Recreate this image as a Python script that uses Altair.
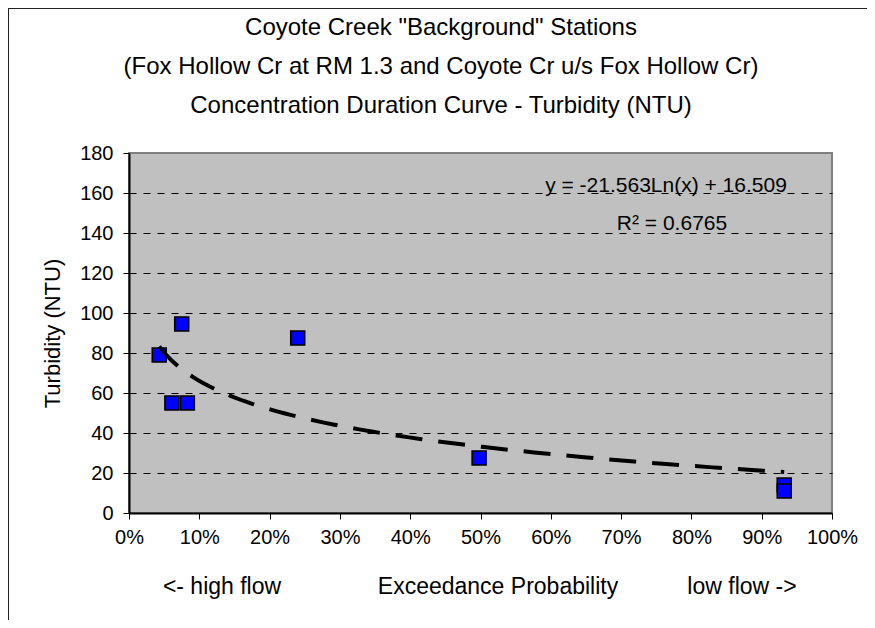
import altair as alt
import pandas as pd

# ---- data ----
exceedance = [0.043, 0.061, 0.075, 0.083, 0.240, 0.498, 0.932, 0.932]
turbidity = [79.0, 55.0, 94.5, 55.0, 87.5, 27.5, 14.0, 11.0]
x_ticks = [0.0, 0.1, 0.2, 0.3, 0.4, 0.5, 0.6, 0.7, 0.8, 0.9, 1.0]
y_ticks = [0, 20, 40, 60, 80, 100, 120, 140, 160, 180]
title_line1 = ['Coyote Creek "Background" Stations']
title_line2 = ['(Fox Hollow Cr at RM 1.3 and Coyote Cr u/s Fox Hollow Cr)']
title_line3 = ['Concentration Duration Curve - Turbidity  (NTU)']
equation_text = ["y = -21.563Ln(x) + 16.509"]
r2_text = ["R\u00b2 = 0.6765"]
x_title_left = ["<- high flow"]
x_title_mid = ["Exceedance Probability"]
x_title_right = ["low flow ->"]
y_title = "Turbidity (NTU)"

FONT = "Liberation Sans"
W, H = 703, 360

df = pd.DataFrame({"p": exceedance, "t": turbidity})

x_enc = alt.X(
    "p:Q",
    scale=alt.Scale(domain=[0, 1], nice=False, zero=False),
    axis=alt.Axis(values=x_ticks, format=".0%", title=None, grid=False,
                  labelPadding=8, tickSize=6, labelFlush=False, labelOverlap=False),
)
y_enc = alt.Y(
    "t:Q",
    scale=alt.Scale(domain=[0, 180], nice=False),
    axis=alt.Axis(
        values=y_ticks, title=y_title, grid=True, gridColor="black",
        gridDash=[7, 7], gridWidth=1,
        gridOpacity={"condition": {"test": "datum.value >= 180 || datum.value <= 0", "value": 0}, "value": 1},
        labelPadding=10, tickSize=6, labelOverlap=False,
        titleX=-77, titleY=180, titleAngle=270, titleAlign="center", titleBaseline="middle",
        titleFontSize=22,
    ),
)

base = alt.Chart(df)

points = base.mark_square(size=196, fill="#0000FF", stroke="black",
                          strokeWidth=1.5, opacity=1).encode(x=x_enc, y=y_enc)

trend = base.transform_regression("p", "t", method="log").mark_line(
    color="black", strokeWidth=4, strokeDash=[27, 16]
).encode(x=x_enc, y=y_enc)


def txt(lst, xpos, ypos, size, baseline="middle"):
    return alt.Chart(pd.DataFrame({"s": lst})).mark_text(
        font=FONT, fontSize=size, align="center", baseline=baseline, color="black"
    ).encode(x=alt.value(xpos), y=alt.value(ypos), text="s:N")


eq = txt(equation_text, 537, 39, 21, "alphabetic")
r2 = txt(r2_text, 543, 77, 21, "alphabetic")

xl = txt(x_title_left, 93, 434, 23)
xm = txt(x_title_mid, 369, 434, 23)
xr = txt(x_title_right, 613, 434, 23)

t1 = txt(title_line1, 312, -125, 24)
t2 = txt(title_line2, 312, -86, 24)
t3 = txt(title_line3, 312, -47, 24)

border_df = pd.DataFrame({"a": [0]})
left_border = alt.Chart(border_df).mark_rule(color="#222222", strokeWidth=2).encode(
    x=alt.value(-121), y=alt.value(-145), y2=alt.value(480))
top_border = alt.Chart(border_df).mark_rule(color="#222222", strokeWidth=2).encode(
    x=alt.value(-121), x2=alt.value(760), y=alt.value(-145))

chart = alt.layer(
    points, trend, eq, r2, xl, xm, xr, t1, t2, t3, left_border, top_border
).properties(
    width=W, height=H,
    autosize=alt.AutoSizeParams(type="none"),
    padding={"left": 121, "top": 145, "right": 35, "bottom": 107},
    background="white",
).configure_view(
    fill="#C0C0C0", stroke="#808080", strokeWidth=2
).configure_axis(
    domainColor="black", domainWidth=2, tickColor="black", tickWidth=1,
    labelFont=FONT, labelFontSize=20, labelColor="black",
    titleFont=FONT, titleFontSize=22, titleFontWeight="normal", titleColor="black",
)

chart.save("out.html", embed_options={"renderer": "svg", "actions": False})
